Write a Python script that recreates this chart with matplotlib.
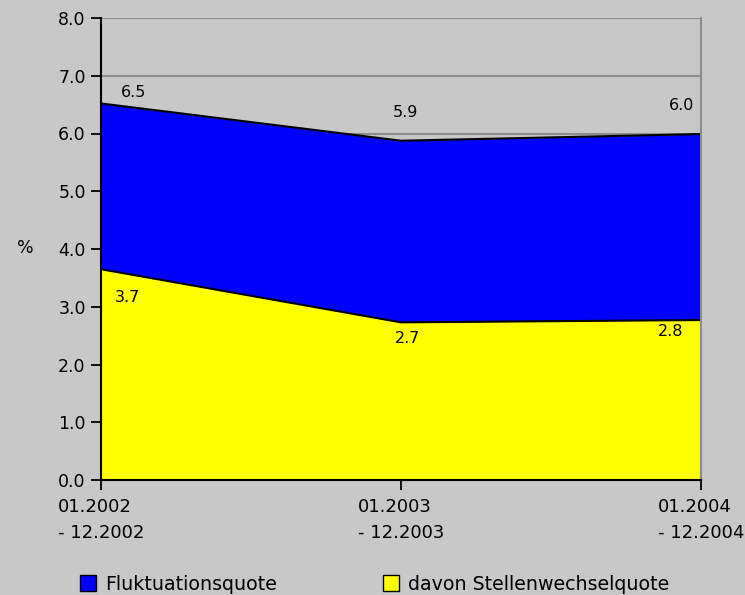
import matplotlib
matplotlib.use("Agg")
import matplotlib.pyplot as plt
from matplotlib.patches import Patch

categories = ["01.2002\n- 12.2002", "01.2003\n- 12.2003", "01.2004\n- 12.2004"]
fluktuation = [6.52, 5.875, 5.99]
stellenwechsel = [3.65, 2.73, 2.77]
fluk_labels = ["6.5", "5.9", "6.0"]
stell_labels = ["3.7", "2.7", "2.8"]
yticks = [0.0, 1.0, 2.0, 3.0, 4.0, 5.0, 6.0, 7.0, 8.0]

bg = "#C8C8C8"
plt.rcParams['font.family'] = ['DejaVu Sans']

fig = plt.figure(figsize=(7.45, 5.95), dpi=100, facecolor=bg)
ax = fig.add_axes([101/745, 115/595, 600/745, 462/595])
ax.set_facecolor(bg)

x = list(range(len(categories)))
for t in yticks:
    ax.axhline(t, color="#8C8C8C", lw=1.5, zorder=1)

ax.fill_between(x, 0, fluktuation, color="#0000FF", zorder=2, lw=0)
ax.plot(x, fluktuation, color="black", lw=1.5, zorder=4)
ax.fill_between(x, 0, stellenwechsel, color="#FFFF00", zorder=3, lw=0)
ax.plot(x, stellenwechsel, color="black", lw=1.5, zorder=4)

fluk_off = [(23.8, 7.6), (2.9, 20.0), (-13.7, 20.9)]
stell_off = [(19.1, -20.5), (4.7, -11.9), (-21.6, -7.9)]
for i in x:
    ax.annotate(fluk_labels[i], (x[i], fluktuation[i]), xytext=fluk_off[i],
                textcoords="offset points", ha="center", va="center",
                fontsize=11.5, zorder=5)
    ax.annotate(stell_labels[i], (x[i], stellenwechsel[i]), xytext=stell_off[i],
                textcoords="offset points", ha="center", va="center",
                fontsize=11.5, zorder=5)

ax.set_xlim(0, 2)
ax.set_ylim(0, 8)
ax.set_yticks(yticks)
ax.set_yticklabels([f"{t:.1f}" for t in yticks], fontsize=12.5)
ax.set_xticks(x)
ax.set_xticklabels(categories, fontsize=13, linespacing=1.55)
for lab in ax.get_xticklabels():
    lab.set_multialignment("left")
ax.tick_params(axis="y", direction="out", length=7, width=1.3, pad=4, colors="black")
ax.tick_params(axis="x", direction="out", length=7, width=1.3, pad=6, colors="black")

ax.spines["left"].set_linewidth(1.5)
ax.spines["bottom"].set_linewidth(1.5)
ax.spines["right"].set_color("#8C8C8C")
ax.spines["right"].set_linewidth(1.5)
ax.spines["top"].set_visible(False)
for s in ax.spines.values():
    s.set_zorder(6)

fig.text(25/745, 1 - 248/595, "%", fontsize=12.5, ha="center", va="center")

h1 = Patch(facecolor="#0000FF", edgecolor="black", label="Fluktuationsquote")
h2 = Patch(facecolor="#FFFF00", edgecolor="black", label="davon Stellenwechselquote")
for h, xpos in [(h1, 80), (h2, 383)]:
    leg = fig.legend(handles=[h], loc="center left",
                     bbox_to_anchor=(xpos/745, 1 - 584/595),
                     frameon=False, fontsize=13.7, handlelength=0.85,
                     handleheight=0.95, handletextpad=0.45,
                     borderpad=0, borderaxespad=0)

fig.savefig("out.png", dpi=100, facecolor=bg)
